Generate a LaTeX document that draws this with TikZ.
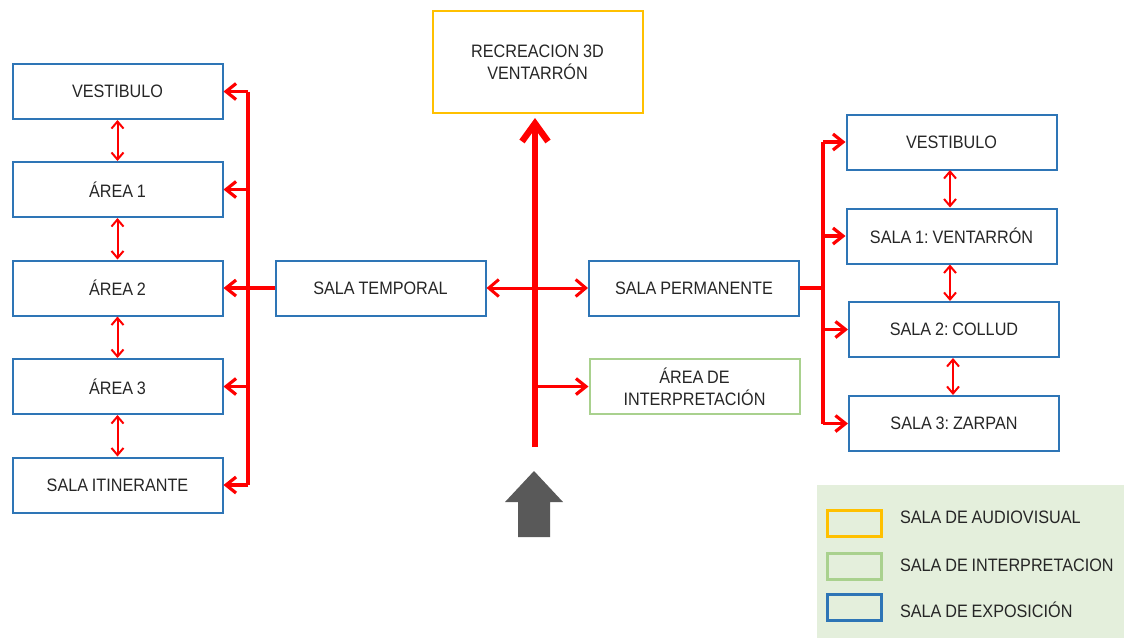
\documentclass[tikz,border=0pt]{standalone}
\usepackage{fontspec}
\setmainfont{Liberation Sans}[FakeStretch=0.9,WordSpace=0.85]
\usepackage{xcolor}
\usetikzlibrary{arrows.meta,positioning}
\definecolor{expoblue}{HTML}{2E75B6}
\definecolor{audioorange}{HTML}{FFC000}
\definecolor{interpgreen}{HTML}{A9D18E}
\definecolor{legendbg}{HTML}{E4EFDC}
\definecolor{flowred}{HTML}{FF0000}
\definecolor{entrygray}{HTML}{595959}
\definecolor{labeltext}{HTML}{262626}
\frenchspacing
\begin{document}
\begin{tikzpicture}[x=0.5pt,y=-0.5pt,
  room/.style={draw=#1,line width=1pt,minimum width=105pt,minimum height=27.5pt,
    inner sep=0pt,align=center,text=labeltext,font=\fontsize{9}{11}\selectfont},
  room/.default=expoblue,
  bus/.style={draw=flowred,line width=1.6pt},
  branch/.style={draw=flowred,line width=1.6pt,-{Straight Barb[length=5pt,width=8pt]}},
  link/.style={draw=flowred,line width=1pt,{Straight Barb[length=3.5pt,width=6pt]}-{Straight Barb[length=3.5pt,width=6pt]}},
  legbox/.style={draw=#1,line width=1.4pt,minimum width=27pt,minimum height=13pt,inner sep=0pt},
  legtext/.style={anchor=west,text=labeltext,font=\fontsize{9}{11}\selectfont}]
\useasboundingbox (0,0) rectangle (1124,638);
% ---------- left wing: sala temporal ----------
\node[room] (lvest)  at (117.5,91.5)  {VESTIBULO};
\node[room] (larea1) at (117.5,189.5) {ÁREA 1};
\node[room] (larea2) at (117.5,288)   {ÁREA 2};
\node[room] (larea3) at (117.5,386.5) {ÁREA 3};
\node[room] (litin)  at (117.5,485)   {SALA ITINERANTE};
\foreach \a/\b in {lvest/larea1,larea1/larea2,larea2/larea3,larea3/litin}
  {\draw[link] (\a.south) -- (\b.north);}
\foreach \n/\y in {lvest/91.5,larea1/189.5,larea2/288,larea3/386.5,litin/485}
  {\coordinate (lbus-\n) at (248,\y);
   \draw[branch] (lbus-\n) -- (\n.east);}
\draw[bus] (lbus-lvest) -- (lbus-litin);
\node[room] (stemporal) at (380.5,288) {SALA TEMPORAL};
\draw[bus,line width=2pt] (stemporal.west) -- (lbus-larea2);
% ---------- centre: main axis ----------
\node[room=audioorange,minimum height=51pt] (recrea) at (537.5,62) {RECREACION 3D\\VENTARRÓN};
\node[room] (sperm) at (694,288) {SALA PERMANENTE};
\node[room=interpgreen] (interp) at (694.5,386.5) {ÁREA DE\\INTERPRETACIÓN};
\coordinate (axisbot) at (535,447);
\coordinate (axisint) at (535,386.5);
\draw[flowred,line width=3.2pt,shorten >=2pt,-{Straight Barb[length=9pt,width=13pt]}]
  (axisbot) -- (axisbot |- recrea.south);
\draw[flowred,line width=1.5pt,{Straight Barb[length=5pt,width=8.5pt]}-{Straight Barb[length=5pt,width=8.5pt]}]
  (stemporal.east) -- (sperm.west);
\draw[branch] (axisint) -- (interp.west);
% entrance
\fill[entrygray] (534,471) -- (563,502) -- (550,502) -- (550,537)
  -- (518,537) -- (518,502) -- (505,502) -- cycle;
% ---------- right wing: sala permanente ----------
\node[room] (rvest)  at (951.5,142)   {VESTIBULO};
\node[room] (rsala1) at (951.5,236)   {SALA 1: VENTARRÓN};
\node[room] (rsala2) at (954,329.5)   {SALA 2: COLLUD};
\node[room] (rsala3) at (954,423.5)   {SALA 3: ZARPAN};
\draw[link] (950,170) -- (rsala1.north -| 950,0);
\draw[link] (rsala1.south -| 950,0) -- (rsala2.north -| 950,0);
\draw[link] (rsala2.south -| 953,0) -- (rsala3.north -| 953,0);
\foreach \n/\y in {rvest/142,rsala1/236,rsala2/329.5,rsala3/423.5}
  {\coordinate (rbus-\n) at (823,\y);
   \draw[branch] (rbus-\n) -- (\n.west);}
\draw[bus] (rbus-rvest) -- (rbus-rsala3);
\coordinate (rbus-mid) at (823,288);
\draw[bus] (sperm.east) -- (rbus-mid);
% ---------- legend ----------
\fill[legendbg] (817,485) rectangle (1124,638);
\node[legbox=audioorange] (legaudio) at (854.5,523.5) {};
\node[legbox=interpgreen] (leginterp) at (854.5,566.5) {};
\node[legbox=expoblue] (legexpo) at (854.5,607.5) {};
\node[legtext] at (893,517) {SALA DE AUDIOVISUAL};
\node[legtext] at (893,565) {SALA DE INTERPRETACION};
\node[legtext] at (893,610) {SALA DE EXPOSICIÓN};
\end{tikzpicture}
\end{document}
